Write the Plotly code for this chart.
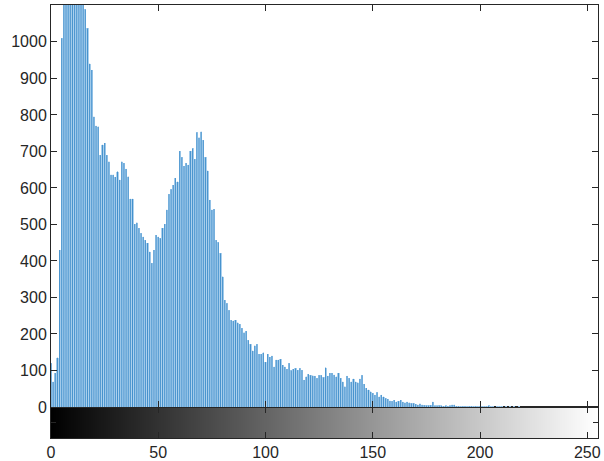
import plotly.graph_objects as go

# Grey levels (bins) and pixel counts
bins = list(range(256))

counts_0_39 = [120, 69, 93, 135, 430, 1010, 1350, 1600, 1800, 1900,
               1850, 1700, 1550, 1400, 1250, 1150, 1089, 1037, 940, 923,
               795, 770, 768, 690, 718, 723, 690, 672, 636, 636,
               630, 645, 622, 672, 668, 652, 631, 570, 570, 501]
counts_40_79 = [505, 490, 476, 466, 457, 449, 425, 394, 430, 471,
                466, 462, 490, 501, 540, 583, 596, 608, 627, 617,
                701, 684, 660, 668, 663, 701, 708, 679, 752, 738,
                754, 731, 684, 647, 567, 540, 542, 457, 451, 421]
counts_80_119 = [357, 293, 284, 265, 238, 236, 238, 231, 227, 216,
                 204, 208, 183, 172, 154, 168, 172, 145, 145, 149,
                 123, 145, 137, 140, 110, 129, 129, 131, 115, 110,
                 104, 120, 100, 104, 106, 101, 106, 101, 74, 83]
counts_120_159 = [90, 87, 86, 85, 79, 87, 87, 81, 108, 85,
                  93, 93, 88, 83, 93, 79, 69, 56, 85, 79,
                  69, 77, 69, 67, 77, 87, 63, 52, 47, 42,
                  38, 33, 40, 28, 33, 28, 24, 22, 17, 16]
counts_160_199 = [19, 14, 16, 19, 14, 12, 14, 12, 10, 10,
                  8, 6, 9, 6, 5, 4, 4, 5, 14, 3,
                  3, 4, 3, 2, 3, 2, 3, 6, 6, 2,
                  2, 1, 2, 2, 1, 2, 2, 1, 2, 1]
counts_200_255 = [2, 1, 1, 1, 3, 1, 1, 0, 1, 1,
                  1, 0, 1, 0, 1, 0, 1, 0, 1, 0,
                  0, 0, 0, 0, 0, 0, 0, 0, 0, 0,
                  0, 0, 0, 0, 0, 0, 0, 0, 0, 0,
                  0, 0, 0, 0, 0, 0, 0, 0, 0, 0,
                  0, 0, 0, 0, 0, 0]
counts = (counts_0_39 + counts_40_79 + counts_80_119 +
          counts_120_159 + counts_160_199 + counts_200_255)

y_ticks = list(range(0, 1001, 100))
x_ticks = [0, 50, 100, 150, 200, 250]

AX = "#262626"

# stem lines (like MATLAB imhist)
sx, sy = [], []
for b, c in zip(bins, counts):
    sx += [b, b, None]
    sy += [0, c, None]

fig = go.Figure()
fig.add_trace(go.Bar(x=bins, y=counts, width=1.0,
                     marker=dict(color="#acd1ee", line=dict(width=0)),
                     xaxis="x2", yaxis="y2", hoverinfo="skip",
                     showlegend=False))
fig.add_trace(go.Scatter(x=sx, y=sy, mode="lines",
                         line=dict(color="#2a80c4", width=0.8),
                         xaxis="x2", yaxis="y2", hoverinfo="skip",
                         showlegend=False))
fig.add_trace(go.Heatmap(z=[bins], x=bins, y=[0.5],
                         colorscale=[[0, "black"], [1, "white"]],
                         showscale=False, xaxis="x", yaxis="y",
                         hoverinfo="skip"))

cb_h = 31 / 433.0
fig.update_layout(
    width=604, height=461,
    margin=dict(l=51, r=6, t=5, b=23),
    paper_bgcolor="white", plot_bgcolor="white",
    font=dict(family="Liberation Sans, Arial, sans-serif", size=16, color=AX),
    bargap=0,
    xaxis=dict(range=[0, 255], domain=[0, 1], tickvals=x_ticks,
               ticks="inside", ticklen=6, tickcolor=AX, showline=True,
               linecolor=AX, linewidth=1, mirror="ticks", showgrid=False,
               zeroline=False, anchor="y", tickfont=dict(size=16),
               automargin=False),
    yaxis=dict(range=[0, 1], domain=[0, cb_h], tickvals=[0.5],
               showticklabels=False, ticks="inside", ticklen=5,
               tickcolor=AX, showline=True, linecolor=AX, linewidth=1,
               mirror="ticks", showgrid=False, zeroline=False, anchor="x",
               automargin=False),
    xaxis2=dict(range=[0, 255], matches="x", tickvals=x_ticks,
                showticklabels=False, ticks="inside", ticklen=6,
                tickcolor=AX, showline=True, linecolor=AX, linewidth=1,
                mirror="ticks", showgrid=False, zeroline=False, anchor="y2",
                automargin=False),
    yaxis2=dict(range=[0, 1101], domain=[cb_h, 1], tickvals=y_ticks,
                ticks="inside", ticklen=6, tickcolor=AX, showline=True,
                linecolor=AX, linewidth=1, mirror="ticks", showgrid=False,
                zeroline=False, anchor="x2", tickfont=dict(size=16),
                automargin=False),
)

fig.write_html("out.html",
               config={"displayModeBar": False},
               post_script="document.body.style.margin='0';"
                           "document.body.style.overflow='hidden';")
